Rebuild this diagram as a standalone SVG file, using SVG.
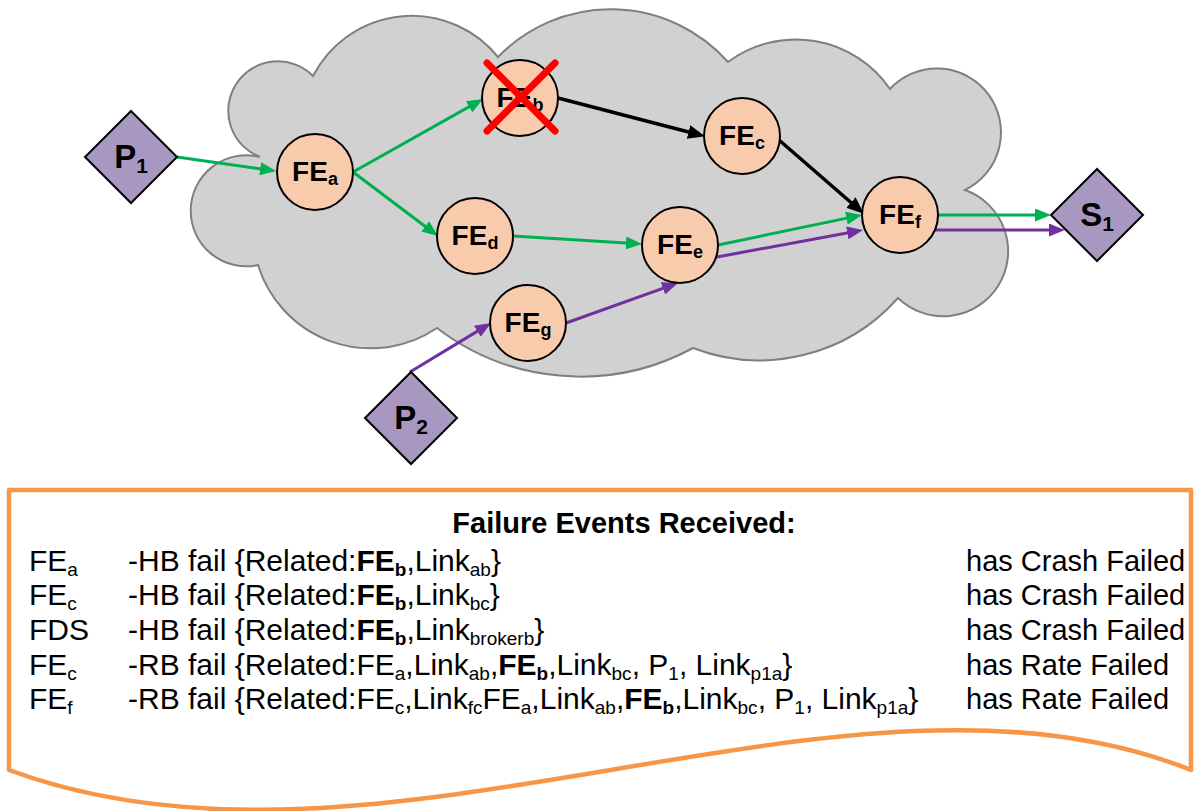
<svg xmlns="http://www.w3.org/2000/svg" width="1195" height="811" viewBox="0 0 1195 811">
  <style>
    text { font-family: "Liberation Sans", Arial, sans-serif; fill: #000; }
    .node { fill: #F8CBAD; stroke: #000; stroke-width: 2; }
    .port { fill: #A797C1; stroke: #000; stroke-width: 2; }
    .nlabel { font-size: 28px; font-weight: bold; }
    .nsub { font-size: 18px; font-weight: bold; }
    .plabel { font-size: 33px; font-weight: bold; }
    .psub { font-size: 21px; font-weight: bold; }
    .g { stroke: #00B050; stroke-width: 3; fill: none; }
    .p { stroke: #7030A0; stroke-width: 3; fill: none; }
    .k { stroke: #000; stroke-width: 3.5; fill: none; }
    .row { font-size: 30px; }
    .state { font-size: 29px; }
    .title { font-size: 29px; font-weight: bold; }
    .sub { font-size: 19px; }
    .b { font-weight: bold; }
  </style>
  <defs>
    <marker id="ah-green" markerUnits="userSpaceOnUse" markerWidth="16" markerHeight="13" refX="8" refY="6.5" orient="auto">
      <path d="M0,0 L16,6.5 L0,13 z" fill="#00B050"/>
    </marker>
    <marker id="ah-purple" markerUnits="userSpaceOnUse" markerWidth="16" markerHeight="13" refX="8" refY="6.5" orient="auto">
      <path d="M0,0 L16,6.5 L0,13 z" fill="#7030A0"/>
    </marker>
    <marker id="ah-black" markerUnits="userSpaceOnUse" markerWidth="17" markerHeight="14" refX="8" refY="7" orient="auto">
      <path d="M0,0 L17,7 L0,14 z" fill="#000"/>
    </marker>
  </defs>

  <!-- network cloud -->
  <path id="cloud" d="M260,157 A49.5,49.5 0 1,1 313,76 A111,111 0 0,1 498,57 A157,157 0 0,1 728,62 A114,114 0 0,1 890,89 A64,64 0 1,1 965,190 A65,65 0 1,1 898,298 A185,185 0 0,1 693,348 A236,236 0 0,1 437,328 A118,118 0 0,1 258,265 A55.5,55.5 0 1,1 260,157 Z" fill="#D1D1D1" stroke="#7F7F7F" stroke-width="2"/>

  <!-- links between brokers -->
  <g id="connectors">
    <line class="g" x1="177" y1="157" x2="268.1" y2="169.9" marker-end="url(#ah-green)"/>
    <line class="g" x1="353" y1="172" x2="476.0" y2="102.9" marker-end="url(#ah-green)"/>
    <line class="g" x1="353" y1="172" x2="431.6" y2="231.2" marker-end="url(#ah-green)"/>
    <line class="g" x1="513" y1="236" x2="634.0" y2="243.5" marker-end="url(#ah-green)"/>
    <line class="g" x1="718" y1="245" x2="854.2" y2="216.6" marker-end="url(#ah-green)"/>
    <line class="g" x1="937" y1="215" x2="1043" y2="215" marker-end="url(#ah-green)"/>
    <line class="k" x1="558" y1="98" x2="696.3" y2="134.0" marker-end="url(#ah-black)"/>
    <line class="k" x1="779" y1="140" x2="857.0" y2="207.8" marker-end="url(#ah-black)"/>
    <line class="p" x1="410" y1="372" x2="484.2" y2="327.1" marker-end="url(#ah-purple)"/>
    <line class="p" x1="566" y1="323" x2="670.5" y2="285.7" marker-end="url(#ah-purple)"/>
    <line class="p" x1="717" y1="257" x2="855.1" y2="231.5" marker-end="url(#ah-purple)"/>
    <line class="p" x1="933" y1="230" x2="1057" y2="230" marker-end="url(#ah-purple)"/>
  </g>

  <!-- publishers and subscriber -->
  <g id="P1">
    <polygon class="port" points="131,111 177,157 131,203 85,157"/>
    <text class="plabel" x="131" y="168" text-anchor="middle">P<tspan class="psub" dy="5">1</tspan></text>
  </g>
  <g id="P2">
    <polygon class="port" points="411,372 457,418 411,464 365,418"/>
    <text class="plabel" x="411" y="429" text-anchor="middle">P<tspan class="psub" dy="5">2</tspan></text>
  </g>
  <g id="S1">
    <polygon class="port" points="1097,169 1143,215 1097,261 1051,215"/>
    <text class="plabel" x="1097" y="226" text-anchor="middle">S<tspan class="psub" dy="5">1</tspan></text>
  </g>

  <!-- brokers -->
  <g id="FEa">
    <circle class="node" cx="315" cy="172" r="38"/>
    <text class="nlabel" x="315" y="181" text-anchor="middle">FE<tspan class="nsub" dy="4">a</tspan></text>
  </g>
  <g id="FEb">
    <circle class="node" cx="520" cy="98" r="38"/>
    <text class="nlabel" x="520" y="107" text-anchor="middle">FE<tspan class="nsub" dy="4">b</tspan></text>
    <line x1="487" y1="63" x2="555" y2="131" stroke="#FF0000" stroke-width="7" stroke-linecap="round"/>
    <line x1="555" y1="63" x2="487" y2="131" stroke="#FF0000" stroke-width="7" stroke-linecap="round"/>
  </g>
  <g id="FEc">
    <circle class="node" cx="742" cy="136" r="38"/>
    <text class="nlabel" x="742" y="145" text-anchor="middle">FE<tspan class="nsub" dy="4">c</tspan></text>
  </g>
  <g id="FEd">
    <circle class="node" cx="475" cy="236" r="38"/>
    <text class="nlabel" x="475" y="245" text-anchor="middle">FE<tspan class="nsub" dy="4">d</tspan></text>
  </g>
  <g id="FEe">
    <circle class="node" cx="680" cy="245" r="38"/>
    <text class="nlabel" x="680" y="254" text-anchor="middle">FE<tspan class="nsub" dy="4">e</tspan></text>
  </g>
  <g id="FEf">
    <circle class="node" cx="900" cy="215" r="38"/>
    <text class="nlabel" x="900" y="224" text-anchor="middle">FE<tspan class="nsub" dy="4">f</tspan></text>
  </g>
  <g id="FEg">
    <circle class="node" cx="528" cy="323" r="38"/>
    <text class="nlabel" x="528" y="332" text-anchor="middle">FE<tspan class="nsub" dy="4">g</tspan></text>
  </g>

  <!-- event log panel -->
  <g id="events">
    <path d="M9,490 L1191,490 L1191,770 C847,632 380,908 9,770 Z" fill="#FFFFFF" stroke="#F79646" stroke-width="4.5" stroke-linejoin="round"/>
    <text class="title" x="624" y="533" text-anchor="middle">Failure Events Received:</text>

    <text class="row" x="29" y="571">FE<tspan class="sub" dy="5">a</tspan></text>
    <text class="row" x="128" y="571">-HB fail {Related:<tspan class="b">FE</tspan><tspan class="b sub" dy="5">b</tspan><tspan dy="-5">,Link</tspan><tspan class="sub" dy="5">ab</tspan><tspan dy="-5">}</tspan></text>
    <text class="state" x="966" y="571">has Crash Failed</text>

    <text class="row" x="29" y="605">FE<tspan class="sub" dy="5">c</tspan></text>
    <text class="row" x="128" y="605">-HB fail {Related:<tspan class="b">FE</tspan><tspan class="b sub" dy="5">b</tspan><tspan dy="-5">,Link</tspan><tspan class="sub" dy="5">bc</tspan><tspan dy="-5">}</tspan></text>
    <text class="state" x="966" y="605">has Crash Failed</text>

    <text class="row" x="29" y="640">FDS</text>
    <text class="row" x="128" y="640">-HB fail {Related:<tspan class="b">FE</tspan><tspan class="b sub" dy="5">b</tspan><tspan dy="-5">,Link</tspan><tspan class="sub" dy="5">brokerb</tspan><tspan dy="-5">}</tspan></text>
    <text class="state" x="966" y="640">has Crash Failed</text>

    <text class="row" x="29" y="675">FE<tspan class="sub" dy="5">c</tspan></text>
    <text class="row" x="128" y="675">-RB fail {Related:FE<tspan class="sub" dy="5">a</tspan><tspan dy="-5">,Link</tspan><tspan class="sub" dy="5">ab</tspan><tspan dy="-5">,</tspan><tspan class="b">FE</tspan><tspan class="b sub" dy="5">b</tspan><tspan dy="-5">,Link</tspan><tspan class="sub" dy="5">bc</tspan><tspan dy="-5">, P</tspan><tspan class="sub" dy="5">1</tspan><tspan dy="-5">, Link</tspan><tspan class="sub" dy="5">p1a</tspan><tspan dy="-5">}</tspan></text>
    <text class="state" x="966" y="675">has Rate Failed</text>

    <text class="row" x="29" y="709">FE<tspan class="sub" dy="5">f</tspan></text>
    <text class="row" x="128" y="709">-RB fail {Related:FE<tspan class="sub" dy="5">c</tspan><tspan dy="-5">,Link</tspan><tspan class="sub" dy="5">fc</tspan><tspan dy="-5">FE</tspan><tspan class="sub" dy="5">a</tspan><tspan dy="-5">,Link</tspan><tspan class="sub" dy="5">ab</tspan><tspan dy="-5">,</tspan><tspan class="b">FE</tspan><tspan class="b sub" dy="5">b</tspan><tspan dy="-5">,Link</tspan><tspan class="sub" dy="5">bc</tspan><tspan dy="-5">, P</tspan><tspan class="sub" dy="5">1</tspan><tspan dy="-5">, Link</tspan><tspan class="sub" dy="5">p1a</tspan><tspan dy="-5">}</tspan></text>
    <text class="state" x="966" y="709">has Rate Failed</text>
  </g>
</svg>
